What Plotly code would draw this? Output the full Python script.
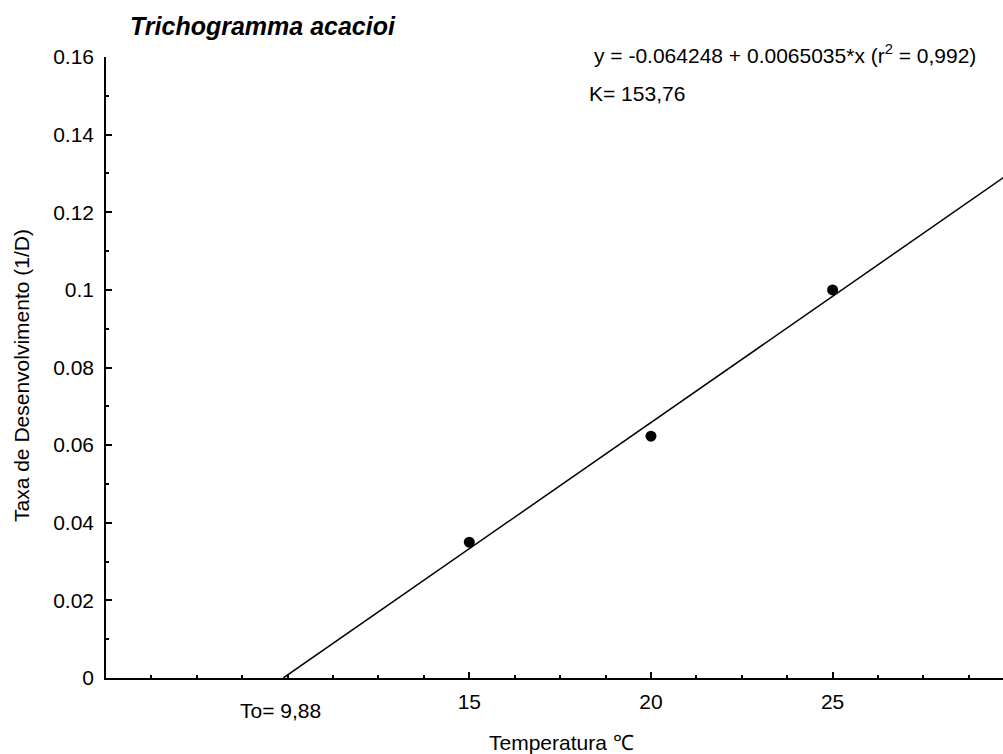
import plotly.graph_objects as go

# Data
temperatures = [15, 20, 25]
dev_rates = [0.035, 0.0623, 0.100]
intercept = -0.064248
slope = 0.0065035
t0 = 9.88
line_x_end = 30.0
y_tick_vals = [0, 0.02, 0.04, 0.06, 0.08, 0.1, 0.12, 0.14, 0.16]
y_tick_text = ["0", "0.02", "0.04", "0.06", "0.08", "0.1", "0.12", "0.14", "0.16"]
x_tick_vals = [15, 20, 25]
x_tick_text = ["15", "20", "25"]

FONT = "Liberation Sans, Arial, sans-serif"

line_x = [t0, line_x_end]
line_y = [intercept + slope * v for v in line_x]

fig = go.Figure()
fig.add_trace(go.Scatter(x=line_x, y=line_y, mode="lines",
                         line=dict(color="black", width=1.5), showlegend=False))
fig.add_trace(go.Scatter(x=temperatures, y=dev_rates, mode="markers",
                         marker=dict(color="black", size=11), showlegend=False))

fig.update_layout(
    width=1003, height=754,
    margin=dict(l=106, r=0, t=57, b=76),
    paper_bgcolor="white", plot_bgcolor="white",
    font=dict(family=FONT, size=21, color="black"),
    showlegend=False,
)
fig.update_xaxes(
    range=[5, 29.69], showgrid=False, zeroline=False,
    showline=True, linecolor="black", linewidth=1.5,
    tickmode="array", tickvals=x_tick_vals, ticktext=x_tick_text,
    ticks="inside", ticklen=6, tickwidth=1.5, tickcolor="black",
    ticklabelstandoff=4,
    minor=dict(tick0=5, dtick=1.25, ticks="inside", ticklen=3, tickwidth=1.5,
               tickcolor="black", showgrid=False),
    tickfont=dict(size=21, color="black", family=FONT),
)
fig.update_yaxes(
    range=[0, 0.16], showgrid=False, zeroline=False,
    showline=True, linecolor="black", linewidth=1.5,
    tickmode="array", tickvals=y_tick_vals, ticktext=y_tick_text,
    ticks="inside", ticklen=6, tickwidth=1.5, tickcolor="black",
    ticklabelstandoff=6,
    minor=dict(tick0=0, dtick=0.01, ticks="inside", ticklen=3, tickwidth=1.5,
               tickcolor="black", showgrid=False),
    tickfont=dict(size=21, color="black", family=FONT),
)

def px_ann(text, x, y, xanchor="left", size=21, textangle=0):
    fig.add_annotation(text=text, xref="paper", yref="paper",
                       x=(x - 106) / 897, y=(678 - y) / 621,
                       showarrow=False, xanchor=xanchor, yanchor="middle",
                       textangle=textangle,
                       font=dict(size=size, family=FONT, color="black"))

px_ann("<b><i>Trichogramma acacioi</i></b>", 128, 26, size=25)
px_ann("y = -0.064248 + 0.0065035*x (r<sup>2</sup> = 0,992)", 592, 54)
px_ann("K= 153,76", 587, 93)
px_ann("To= 9,88", 280.5, 710, xanchor="center")
px_ann("Temperatura ℃", 561, 742, xanchor="center")
px_ann("Taxa de Desenvolvimento (1/D)", 21, 376, xanchor="center", size=21, textangle=-90)

fig.write_html("out.html")
